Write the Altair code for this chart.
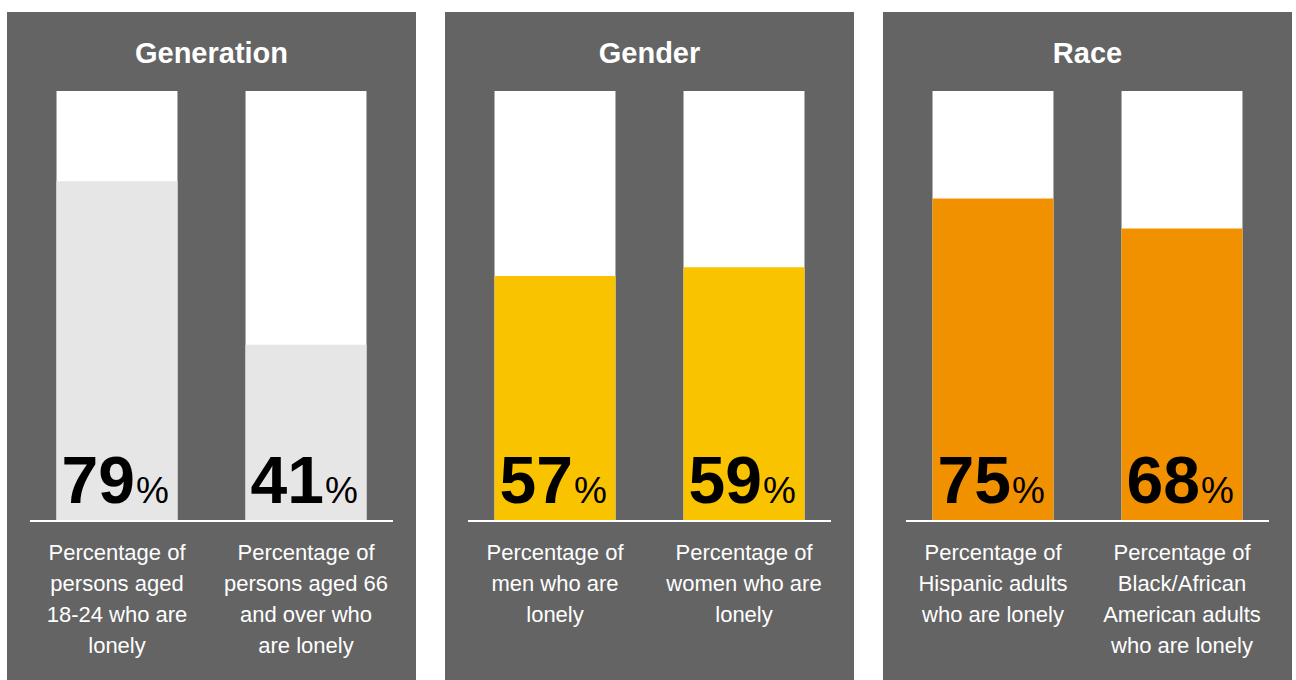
import altair as alt
import pandas as pd

# ---- data ----
groups = ["Generation", "Gender", "Race"]
group_colors = ["#E6E6E6", "#F9C300", "#F29100"]
categories = [
    ["Aged 18-24", "Aged 66+"],
    ["Men", "Women"],
    ["Hispanic", "Black/African American"],
]
values = [
    [79, 41],
    [57, 59],
    [75, 68],
]
labels = [
    ["Percentage of\npersons aged\n18-24 who are\nlonely",
     "Percentage of\npersons aged 66\nand over who\nare lonely"],
    ["Percentage of\nmen who are\nlonely",
     "Percentage of\nwomen who are\nlonely"],
    ["Percentage of\nHispanic adults\nwho are lonely",
     "Percentage of\nBlack/African\nAmerican adults\nwho are lonely"],
]

PANEL_BG = "#646464"
FONT = "Liberation Sans"
widths = [409, 409, 409]


def panel(i):
    cats = categories[i]
    df = pd.DataFrame({
        "cat": cats,
        "value": values[i],
        "full": [100, 100],
        "zero": [0, 0],
        "num": [str(v) for v in values[i]],
        "pct": ["%", "%"],
        "label": labels[i],
    })
    ys = alt.Scale(domain=[-36.98, 118.37])
    x = alt.X("cat:N", sort=cats, axis=None,
              scale=alt.Scale(paddingInner=0.36, paddingOuter=0.262))
    base = alt.Chart(df)

    bg = base.mark_bar(color="white").encode(
        x=x, y=alt.Y("full:Q", scale=ys, axis=None), y2="zero:Q")
    fg = base.mark_bar(color=group_colors[i]).encode(
        x=x, y=alt.Y("value:Q", scale=ys, axis=None), y2="zero:Q")
    rule = alt.Chart(pd.DataFrame({"zero": [0]})).mark_rule(
        color="white", strokeWidth=2).encode(
        y=alt.Y("zero:Q", scale=ys, axis=None),
        x=alt.value(23), x2=alt.value(widths[i] - 23))
    num = base.mark_text(
        align="right", baseline="alphabetic", dx=18, dy=-18,
        fontSize=66, fontWeight="bold", font=FONT, color="black").encode(
        x=x, y=alt.Y("zero:Q", scale=ys, axis=None), text="num:N")
    pct = base.mark_text(
        align="left", baseline="alphabetic", dx=19, dy=-18,
        fontSize=37, font=FONT, color="black").encode(
        x=x, y=alt.Y("zero:Q", scale=ys, axis=None), text="pct:N")
    lab = base.mark_text(
        align="center", baseline="alphabetic", dy=39, lineBreak="\n",
        lineHeight=31, fontSize=22, font=FONT, color="white").encode(
        x=x, y=alt.Y("zero:Q", scale=ys, axis=None), text="label:N")

    return alt.layer(bg, fg, rule, num, pct, lab).properties(
        width=widths[i], height=668,
        title=alt.TitleParams(
            text=groups[i], color="white", fontSize=29, fontWeight="bold",
            font=FONT, anchor="middle", frame="group", offset=-80,
            baseline="alphabetic"),
    )


chart = alt.hconcat(*[panel(i) for i in range(3)], spacing=29).properties(
    padding={"left": 7, "top": 12, "right": 0, "bottom": 0},
    background="white",
).configure_view(fill=PANEL_BG, stroke=PANEL_BG, strokeWidth=0)

chart.save("out.html", embed_options={"renderer": "svg", "actions": False})
